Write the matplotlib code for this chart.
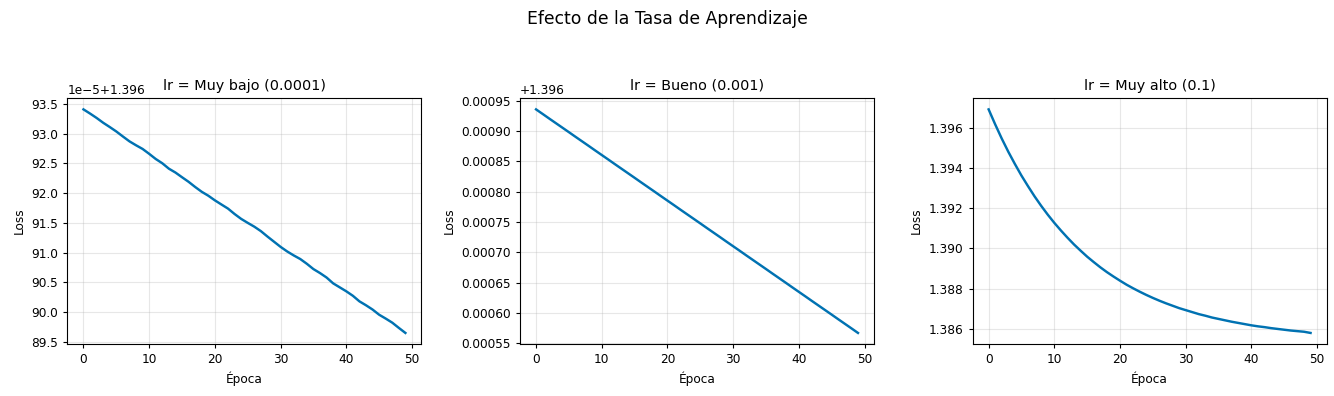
import matplotlib
matplotlib.use("Agg")
import matplotlib.pyplot as plt
import numpy as np

epochs = list(range(50))

loss_muy_bajo = [
    1.39693410, 1.39693340, 1.39693266, 1.39693185, 1.39693113, 1.39693038,
    1.39692954, 1.39692872, 1.39692806, 1.39692744, 1.39692662, 1.39692575,
    1.39692503, 1.39692412, 1.39692347, 1.39692268, 1.39692191, 1.39692104,
    1.39692023, 1.39691957, 1.39691879, 1.39691809, 1.39691740, 1.39691649,
    1.39691567, 1.39691500, 1.39691436, 1.39691361, 1.39691270, 1.39691183,
    1.39691096, 1.39691019, 1.39690952, 1.39690891, 1.39690811, 1.39690722,
    1.39690655, 1.39690580, 1.39690482, 1.39690415, 1.39690348, 1.39690273,
    1.39690179, 1.39690113, 1.39690041, 1.39689954, 1.39689889, 1.39689820,
    1.39689732, 1.39689647,
]

loss_bueno = [
    1.3969360, 1.3969285, 1.3969209, 1.3969134, 1.3969059, 1.3968984,
    1.3968908, 1.3968833, 1.3968758, 1.3968682, 1.3968607, 1.3968532,
    1.3968456, 1.3968381, 1.3968306, 1.3968231, 1.3968155, 1.3968080,
    1.3968005, 1.3967929, 1.3967854, 1.3967779, 1.3967703, 1.3967628,
    1.3967553, 1.3967478, 1.3967402, 1.3967327, 1.3967252, 1.3967176,
    1.3967101, 1.3967026, 1.3966950, 1.3966875, 1.3966800, 1.3966725,
    1.3966649, 1.3966574, 1.3966499, 1.3966423, 1.3966348, 1.3966273,
    1.3966197, 1.3966122, 1.3966047, 1.3965972, 1.3965896, 1.3965821,
    1.3965746, 1.3965670,
]

loss_muy_alto = [
    1.39695, 1.39620, 1.39549, 1.39483, 1.39422, 1.39364, 1.39311, 1.39260,
    1.39213, 1.39169, 1.39128, 1.39090, 1.39054, 1.39020, 1.38989, 1.38959,
    1.38932, 1.38906, 1.38882, 1.38860, 1.38839, 1.38819, 1.38801, 1.38784,
    1.38768, 1.38753, 1.38739, 1.38726, 1.38714, 1.38702, 1.38692, 1.38682,
    1.38672, 1.38664, 1.38655, 1.38648, 1.38641, 1.38634, 1.38628, 1.38622,
    1.38616, 1.38611, 1.38607, 1.38602, 1.38598, 1.38594, 1.38590, 1.38587,
    1.38584, 1.38578,
]

titles = ["lr = Muy bajo (0.0001)", "lr = Bueno (0.001)", "lr = Muy alto (0.1)"]
series = [loss_muy_bajo, loss_bueno, loss_muy_alto]

plt.rcParams.update({
    "font.family": "DejaVu Sans",
    "xtick.labelsize": 8.7,
    "ytick.labelsize": 8.7,
    "xtick.major.size": 3.0,
    "ytick.major.size": 3.0,
    "axes.linewidth": 0.8,
})

fig, axes = plt.subplots(1, 3, figsize=(13.34, 3.96), dpi=100)
fig.subplots_adjust(left=0.0505, right=0.9945, top=0.752, bottom=0.131, wspace=0.278)

for ax, title, ys in zip(axes, titles, series):
    ax.plot(epochs, ys, color="#0072B2", linewidth=1.75)
    ax.set_title(title, fontsize=10.4)
    ax.set_xlabel("Época", fontsize=8.7)
    ax.set_ylabel("Loss", fontsize=8.7)
    ax.grid(True, alpha=0.3)
    ax.yaxis.get_offset_text().set_fontsize(8.7)

fig.suptitle("Efecto de la Tasa de Aprendizaje", fontsize=12.4, y=0.975)
fig.savefig("out.png", dpi=100)
